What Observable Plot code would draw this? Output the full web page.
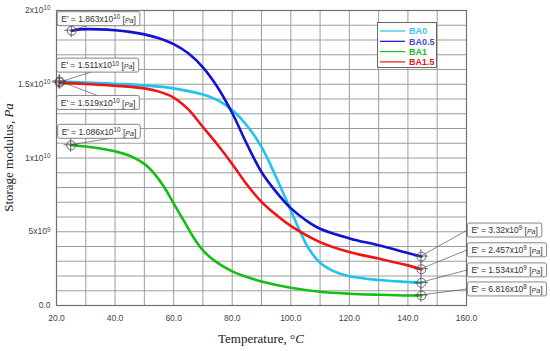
<!DOCTYPE html>
<html><head><meta charset="utf-8">
<script src="https://cdn.jsdelivr.net/npm/d3@7"></script>
<script src="https://cdn.jsdelivr.net/npm/@observablehq/plot@0.6"></script>
<style>
html,body{margin:0;padding:0;background:#fff;}
#chart{width:550px;height:351px;}
</style></head><body><div id="chart"></div>
<script>
// ---- data ----
const series = ["BA0", "BA0.5", "BA1", "BA1.5"];
const colors = ["#1ec3f0", "#1212d2", "#14be14", "#f01414"];
const legendTextColors = ["#33c6f5", "#4848dc", "#14be14", "#f01414"];

const tempBA0 = [21.1, 30, 40, 50, 60, 70, 75, 80, 85, 90, 95, 100, 103, 106, 110, 115, 120, 130, 140, 144.6];
const modBA0 = [15.19e9, 15.12e9, 15.03e9, 14.92e9, 14.72e9, 14.3e9, 13.92e9, 13.25e9, 12.2e9, 10.75e9, 8.7e9, 6.45e9, 5.1e9, 3.9e9, 2.9e9, 2.3e9, 1.98e9, 1.73e9, 1.59e9, 1.534e9];

const tempBA05 = [25.2, 28, 35, 40, 45, 50, 55, 60, 65, 70, 75, 80, 85, 90, 95, 100, 105, 110, 120, 130, 140, 144.6];
const modBA05 = [18.63e9, 18.72e9, 18.72e9, 18.66e9, 18.55e9, 18.38e9, 18.12e9, 17.72e9, 17.1e9, 16.15e9, 14.8e9, 13.05e9, 10.95e9, 9.05e9, 7.7e9, 6.6e9, 5.8e9, 5.2e9, 4.55e9, 4.08e9, 3.56e9, 3.32e9];

const tempBA1 = [25, 30, 35, 40, 45, 50, 53.3, 56.7, 60, 63.6, 67, 70, 73.8, 80, 85, 90, 100, 110, 120, 130, 140, 144.6];
const modBA1 = [10.86e9, 10.78e9, 10.65e9, 10.45e9, 10.15e9, 9.6e9, 8.96e9, 8.05e9, 6.92e9, 5.7e9, 4.54e9, 3.74e9, 3.06e9, 2.31e9, 1.93e9, 1.63e9, 1.2e9, 0.93e9, 0.8e9, 0.73e9, 0.68e9, 0.6816e9];

const tempBA15 = [21.1, 30, 40, 50, 55, 60, 65, 70, 75, 80, 85, 90, 95, 100, 110, 120, 130, 140, 144.6];
const modBA15 = [15.11e9, 15.02e9, 14.9e9, 14.72e9, 14.5e9, 14.1e9, 13.3e9, 12.1e9, 10.9e9, 9.6e9, 8.2e9, 7.03e9, 6.15e9, 5.4e9, 4.3e9, 3.62e9, 3.18e9, 2.72e9, 2.457e9];

const xTicks = [20, 40, 60, 80, 100, 120, 140, 160];
const yTicks = [0, 5e9, 1e10, 1.5e10, 2e10];
const yTickMant = ["0.0", "5", "1", "1.5", "2"];
const yTickExp = ["", "9", "10", "10", "10"];

// point annotations (markers)
const annoT = [25.2, 21.1, 21.1, 25, 144.6, 144.6, 144.6, 144.6];
const annoE = [1.863e10, 1.511e10, 1.519e10, 1.086e10, 3.32e9, 2.457e9, 1.534e9, 6.816e8];
const annoMant = ["1.863", "1.511", "1.519", "1.086", "3.32", "2.457", "1.534", "6.816"];
const annoExp = ["10", "10", "10", "10", "9", "9", "9", "8"];

// ---- build ----
const temps = [tempBA0, tempBA05, tempBA1, tempBA15];
const mods = [modBA0, modBA05, modBA1, modBA15];
const rows = [];
series.forEach((s, i) => temps[i].forEach((t, j) => rows.push({series: s, T: t, E: mods[i][j]})));

const chart = Plot.plot({
  width: 550, height: 351,
  marginLeft: 56, marginRight: 84, marginTop: 10, marginBottom: 46,
  style: {fontFamily: "'Liberation Sans', Arial, sans-serif", fontSize: "8.5px", color: "#444", background: "#fff"},
  x: {domain: [20, 160], ticks: xTicks, tickFormat: d => d.toFixed(1), tickSize: 0, tickPadding: 9, label: null},
  y: {domain: [0, 2e10], ticks: yTicks, tickFormat: d => {
        const i = yTicks.indexOf(d);
        return yTickExp[i] ? yTickMant[i] + "x10^" + yTickExp[i] : yTickMant[i];
      }, tickSize: 0, tickPadding: 6, label: null},
  color: {domain: series, range: colors},
  marks: [
    Plot.gridX(d3.range(20, 161, 10), {stroke: "#9c9c9c", strokeOpacity: 1, strokeWidth: 1}),
    Plot.gridY(d3.range(0, 20.5e9, 1e9), {stroke: "#9c9c9c", strokeOpacity: 1, strokeWidth: 1}),
    Plot.frame({stroke: "#707070", strokeWidth: 1.2}),
    Plot.line(rows, {x: "T", y: "E", z: "series", stroke: "series", curve: "catmull-rom", strokeWidth: 2.6}),
    Plot.dot(annoT.map((t, i) => ({T: t, E: annoE[i]})), {x: "T", y: "E", r: 4.5, stroke: "#444", strokeWidth: 0.8, fill: "none"})
  ]
});
document.getElementById("chart").appendChild(chart);

const svg = d3.select(chart);
const xs = chart.scale("x"), ys = chart.scale("y");

// superscript y tick labels
svg.selectAll('g[aria-label="y-axis tick label"] text').each(function () {
  const t = this.textContent;
  if (t.includes("^")) {
    const [m, e] = t.split("^");
    const el = d3.select(this);
    el.text(m);
    el.append("tspan").attr("dy", "-0.45em").attr("font-size", "6.3px").text(e);
  }
});

// crosshairs on markers
const g = svg.append("g");
annoT.forEach((t, i) => {
  const px = xs.apply(t), py = ys.apply(annoE[i]);
  g.append("line").attr("x1", px - 7).attr("x2", px + 7).attr("y1", py).attr("y2", py).attr("stroke", "#444").attr("stroke-width", 0.8);
  g.append("line").attr("x1", px).attr("x2", px).attr("y1", py - 7).attr("y2", py + 7).attr("stroke", "#444").attr("stroke-width", 0.8);
});

// annotation boxes: layout offsets (pixels) relative to marker
// [box left dx, box top dy, leader end dx, leader end dy]
const boxLayout = [
  [-14, -18.5, 16, -4.5],
  [-2.5, -24, 38, -12],
  [-2.5, 14.5, 38, 14.5],
  [-13, -20.5, 40, -6.5],
  [46.5, -33, 46.5, -26],
  [46.5, -26, 46.5, -19],
  [46.5, -19.5, 46.5, -12.5],
  [46.5, -13, 46.5, -6]
];
const ag = svg.append("g").attr("font-family", "'Liberation Sans', Arial, sans-serif").attr("font-size", "8.5px").attr("fill", "#333").attr("text-anchor", "start");
annoT.forEach((t, i) => {
  const px = xs.apply(t), py = ys.apply(annoE[i]);
  const [bx, by, lx, ly] = boxLayout[i];
  const grp = ag.append("g");
  grp.append("line").attr("x1", px).attr("y1", py).attr("x2", px + lx).attr("y2", py + ly).attr("stroke", "#555").attr("stroke-width", 0.7);
  const rect = grp.append("rect");
  const txt = grp.append("text").attr("text-anchor", "start").attr("x", px + bx + 4).attr("y", py + by + 10.3);
  txt.append("tspan").text("E' = " + annoMant[i] + "x10");
  txt.append("tspan").attr("dy", "-0.45em").attr("font-size", "6.3px").text(annoExp[i]);
  txt.append("tspan").attr("dy", "0.45em").text(" [");
  txt.append("tspan").attr("font-style", "italic").attr("font-size", "7px").text("Pa");
  txt.append("tspan").text("]");
  const bb = txt.node().getBBox();
  rect.attr("x", px + bx).attr("y", py + by).attr("width", bb.width + 8).attr("height", 14)
    .attr("rx", 2).attr("fill", "#fbfbfb").attr("stroke", "#6a6a6a").attr("stroke-width", 0.8);
});

// legend
const lg = svg.append("g").attr("text-anchor", "start");
lg.append("rect").attr("x", 377.5).attr("y", 22.5).attr("width", 59).attr("height", 45).attr("fill", "#fff").attr("stroke", "#444").attr("stroke-width", 0.8);
series.forEach((s, i) => {
  const y = 31 + i * 10.3;
  lg.append("line").attr("x1", 380).attr("x2", 405).attr("y1", y).attr("y2", y).attr("stroke", colors[i]).attr("stroke-width", 1.2);
  lg.append("text").attr("text-anchor", "start").attr("x", 409).attr("y", y + 3.3).attr("font-family", "'Liberation Sans', Arial, sans-serif")
    .attr("font-size", "9px").attr("font-weight", "bold").attr("fill", legendTextColors[i]).text(s);
});

// axis titles
const xt = svg.append("text").attr("x", (56 + 466) / 2).attr("y", 343).attr("text-anchor", "middle")
  .attr("font-family", "'Liberation Serif', 'Times New Roman', serif").attr("font-size", "13px").attr("fill", "#222");
xt.append("tspan").text("Temperature, °");
xt.append("tspan").attr("font-style", "italic").text("C");
const yt = svg.append("text").attr("transform", `translate(13,${(10 + 305) / 2}) rotate(-90)`).attr("text-anchor", "middle")
  .attr("font-family", "'Liberation Serif', 'Times New Roman', serif").attr("font-size", "13px").attr("fill", "#222");
yt.append("tspan").text("Storage modulus, ");
yt.append("tspan").attr("font-style", "italic").text("Pa");
</script>
</body></html>
